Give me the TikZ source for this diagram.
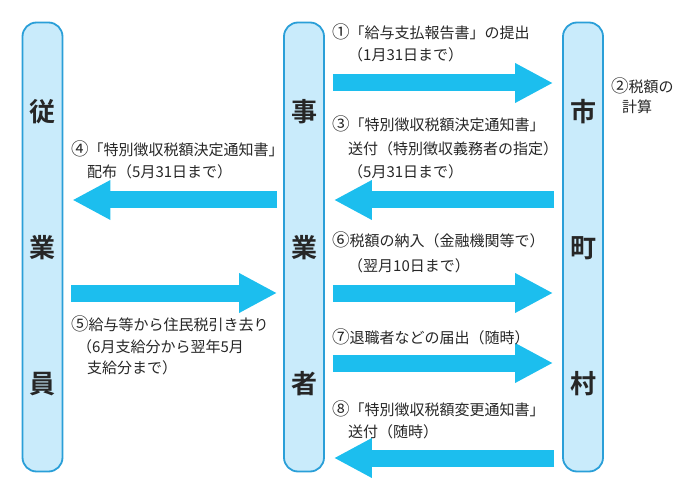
\documentclass[tikz,border=0pt]{standalone}
\usepackage{fontspec}
\newfontfamily\jp{Noto Sans CJK JP}
\newfontfamily\jpb{Noto Sans CJK JP Bold}
\usetikzlibrary{arrows.meta}
\definecolor{barfill}{HTML}{C9EBFB}
\definecolor{barline}{HTML}{2A9FD8}
\definecolor{arrowc}{HTML}{1CBEEE}
\definecolor{txt}{HTML}{262626}
\newcommand{\cnum}[1]{{\fontsize{17.5pt}{18pt}\selectfont #1}}
\begin{document}
\begin{tikzpicture}[x=1pt,y=-1pt,
  bar/.style={draw=barline,line width=1.8pt,fill=barfill,rounded corners=14pt,
    minimum width=40pt,minimum height=449pt,inner sep=0pt},
  bigch/.style={font=\jpb\fontsize{26pt}{30pt}\selectfont,text=txt,inner sep=0pt},
  lbl/.style={font=\jp\fontsize{15pt}{18pt}\selectfont,text=txt,inner sep=0pt,anchor=base west},
  bigarrow/.style={draw=arrowc,line width=17pt,
    -{Triangle[width=37pt,length=38pt]},shorten <=8pt,shorten >=9pt}]
\useasboundingbox (0,0) rectangle (694,492);
% bars
\node[bar] (emp) at (42.5,247) {};
\node[bar] (biz) at (304,247) {};
\node[bar] (city) at (583,247) {};
% big characters
\node[bigch] (e1) at (42.5,112) {従};
\node[bigch] (e2) at (42.5,248) {業};
\node[bigch] (e3) at (42.5,384) {員};
\node[bigch] (b1) at (304,112) {事};
\node[bigch] (b2) at (304,248) {業};
\node[bigch] (b3) at (304,384) {者};
\node[bigch] (c1) at (583,112) {市};
\node[bigch] (c2) at (583,248) {町};
\node[bigch] (c3) at (583,384) {村};
% arrows
\draw[bigarrow] (biz.east |- 0,83) -- (city.west |- 0,83);
\draw[bigarrow] (city.west |- 0,200) -- (biz.east |- 0,200);
\draw[bigarrow,shorten <=6pt] (biz.west |- 0,200) -- (emp.east |- 0,200);
\draw[bigarrow] (emp.east |- 0,293) -- ([xshift=3pt]biz.west |- 0,293);
\draw[bigarrow] (biz.east |- 0,293) -- (city.west |- 0,293);
\draw[bigarrow] (biz.east |- 0,363) -- (city.west |- 0,363);
\draw[bigarrow] (city.west |- 0,458) -- (biz.east |- 0,458);
% labels
\node[lbl] (t1a) at (332,38.5) {\cnum{①}「給与支払報告書」の提出};
\node[lbl] (t1b) at (348,60.5) {（1月31日まで）};
\node[lbl] (t2a) at (611,92.5) {\cnum{②}税額の};
\node[lbl] (t2b) at (622,112.5) {計算};
\node[lbl] (t3a) at (332,130.5) {\cnum{③}「特別徴収税額決定通知書」};
\node[lbl] (t3b) at (348,154.5) {送付（特別徴収義務者の指定）};
\node[lbl] (t3c) at (348,177.5) {（5月31日まで）};
\node[lbl] (t4a) at (71,155.5) {\cnum{④}「特別徴収税額決定通知書」};
\node[lbl] (t4b) at (87,177.5) {配布（5月31日まで）};
\node[lbl] (t5a) at (71,330.5) {\cnum{⑤}給与等から住民税引き去り};
\node[lbl] (t5b) at (77,352.5) {（6月支給分から翌年5月};
\node[lbl] (t5c) at (87,373.5) {支給分まで）};
\node[lbl] (t6a) at (332,246.5) {\cnum{⑥}税額の納入（金融機関等で）};
\node[lbl] (t6b) at (348,271.5) {（翌月10日まで）};
\node[lbl] (t7) at (332,343.5) {\cnum{⑦}退職者などの届出（随時）};
\node[lbl] (t8a) at (332,415.5) {\cnum{⑧}「特別徴収税額変更通知書」};
\node[lbl] (t8b) at (348,437.5) {送付（随時）};
\end{tikzpicture}
\end{document}
